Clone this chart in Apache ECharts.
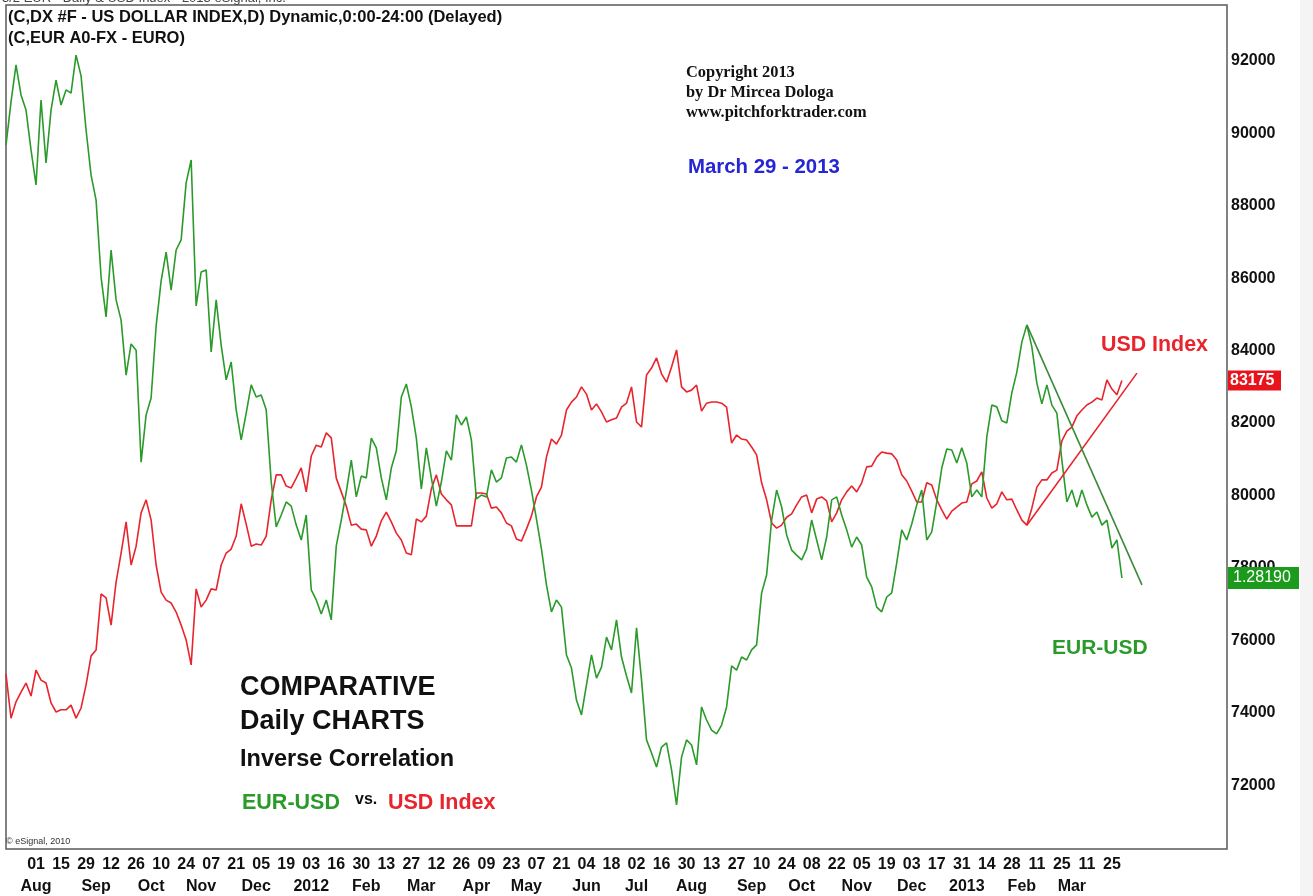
<!DOCTYPE html>
<html>
<head>
<meta charset="utf-8">
<script src="https://cdn.jsdelivr.net/npm/echarts@6/dist/echarts.min.js"></script>
<style>
html,body{margin:0;padding:0;background:#fff;}
#chart{width:1313px;height:896px;}
</style>
</head>
<body>
<div id="chart"></div>
<script>
// ---------------- DATA ----------------
// bottom axis tick labels (every second Monday) and month labels
const dayTickLabels = ['01','15','29','12','26','10','24','07','21','05','19','03','16','30','13','27','12','26','09','23','07','21','04','18','02','16','30','13','27','10','24','08','22','05','19','03','17','31','14','28','11','25','11','25'];
const monthLabels = ['Aug','Sep','Oct','Nov','Dec','2012','Feb','Mar','Apr','May','Jun','Jul','Aug','Sep','Oct','Nov','Dec','2013','Feb','Mar'];
// right axis labels (USD index)
const yTickLabels = [72000,74000,76000,78000,80000,82000,84000,86000,88000,90000,92000];

// USD Index (DX futures x1000), one value every 2 trading days from 14 Jul 2011
const usdIndex = [
75070,73850,74300,74570,74820,74460,75180,74900,74820,74270,
74020,74080,74080,74210,73850,74130,74770,75570,75730,77280,
77170,76420,77610,78410,79270,78080,78600,79520,79880,79320,
78080,77330,77110,77030,76780,76420,76010,75320,77420,76920,
77110,77420,77390,78080,78410,78520,78880,79770,79210,78600,
78660,78630,78880,79880,80570,80570,80260,80210,80480,80760,
80100,81090,81390,81340,81730,81590,80480,80100,79710,79180,
79210,79070,79050,78600,78880,79300,79540,79270,78960,78770,
78410,78360,79350,79270,79430,80180,80570,80040,79880,79740,
79160,79160,79160,79160,80070,80070,80040,79650,79680,79520,
79240,79160,78800,78740,79070,79430,79960,80230,81060,81560,
81420,81670,82360,82580,82720,83000,82800,82360,82530,82310,
82030,82090,82140,82440,82550,83000,82030,81890,83330,83520,
83800,83360,83130,83550,84020,83000,82860,82910,83050,82330,
82550,82580,82580,82550,82440,81450,81670,81560,81530,81340,
81120,80350,79880,79240,79100,79180,79400,79490,79740,79960,
80010,79520,79900,79960,79850,79270,79520,79880,80100,80260,
80100,80350,80790,80810,81060,81200,81170,81150,80980,80570,
80400,80120,79820,79820,80350,80290,79880,79600,79350,79570,
79680,79790,79820,80320,80400,80650,79930,79650,79770,80100,
79880,79900,79600,79320,79180,79650,80230,80430,80430,80620,
80700,81510,81780,81890,82200,82360,82500,82580,82690,82640,
83190,82940,82780,83175
];

// EUR-USD, same dates
const eurUsd = [
1.4276,1.4421,1.4546,1.4445,1.4394,1.4260,1.4142,1.4428,1.4216,1.4394,
1.4495,1.4411,1.4462,1.4451,1.4579,1.4509,1.4327,1.4175,1.4091,1.3832,
1.3698,1.3923,1.3755,1.3687,1.3502,1.3607,1.3586,1.3209,1.3368,1.3425,
1.3667,1.3819,1.3916,1.3788,1.3923,1.3957,1.4149,1.4226,1.3735,1.3849,
1.3856,1.3580,1.3755,1.3603,1.3486,1.3546,1.3385,1.3284,1.3374,1.3469,
1.3428,1.3435,1.3385,1.3142,1.2991,1.3031,1.3075,1.3061,1.2997,1.2947,
1.3031,1.2779,1.2745,1.2698,1.2745,1.2678,1.2927,1.3014,1.3109,1.3216,
1.3092,1.3162,1.3156,1.3290,1.3257,1.3156,1.3082,1.3189,1.3247,1.3428,
1.3472,1.3395,1.3290,1.3119,1.3257,1.3156,1.3061,1.3142,1.3247,1.3216,
1.3368,1.3334,1.3361,1.3284,1.3085,1.3098,1.3092,1.3183,1.3142,1.3156,
1.3223,1.3226,1.3209,1.3267,1.3199,1.3115,1.3018,1.2917,1.2796,1.2705,
1.2745,1.2721,1.2560,1.2516,1.2408,1.2358,1.2459,1.2560,1.2482,1.2519,
1.2620,1.2577,1.2678,1.2553,1.2489,1.2432,1.2651,1.2476,1.2274,1.2230,
1.2183,1.2250,1.2264,1.2173,1.2055,1.2216,1.2274,1.2257,1.2190,1.2385,
1.2341,1.2307,1.2294,1.2324,1.2385,1.2523,1.2509,1.2553,1.2543,1.2577,
1.2594,1.2769,1.2829,1.3014,1.3115,1.3058,1.2964,1.2913,1.2896,1.2880,
1.2917,1.3014,1.2947,1.2880,1.2957,1.3082,1.3092,1.3031,1.2981,1.2923,
1.2957,1.2930,1.2822,1.2789,1.2721,1.2705,1.2755,1.2769,1.2870,1.2981,
1.2947,1.3001,1.3065,1.3115,1.2947,1.2974,1.3075,1.3189,1.3253,1.3250,
1.3206,1.3257,1.3206,1.3092,1.3115,1.3092,1.3294,1.3401,1.3395,1.3348,
1.3341,1.3442,1.3512,1.3613,1.3671,1.3597,1.3475,1.3405,1.3469,1.3401,
1.3374,1.3216,1.3075,1.3115,1.3058,1.3115,1.3065,1.3024,1.3041,1.2997,
1.3014,1.2920,1.2947,1.2819
];

// hand-drawn trend lines: [sample index, value]
const usdTrend = [[204, 79180], [226, 83380]];
const eurTrend = [[204, 1.3671], [227, 1.2796]];
const lastUsdLabel = '83175';
const lastEurLabel = '1.28190';

// ---------------- DATES ----------------
const N_CAT = 245; // includes empty space right of the last value
function addBiz(d, n) {
  const r = new Date(d.getTime());
  while (n > 0) {
    r.setUTCDate(r.getUTCDate() + 1);
    const w = r.getUTCDay();
    if (w !== 0 && w !== 6) n--;
  }
  return r;
}
const dates = [new Date(Date.UTC(2011, 6, 14))];
for (let i = 1; i < N_CAT; i++) dates.push(addBiz(dates[i - 1], 2));
const categories = dates.map(d => d.toISOString().slice(0, 10));
const firstTick = Date.UTC(2011, 7, 1);
const dayLab = {}, monLab = {};
let tk = 0, mk = 0, prevMonth = null;
for (let i = 0; i < usdIndex.length; i++) {
  const d = dates[i];
  const m = d.getUTCFullYear() * 12 + d.getUTCMonth();
  if (d.getTime() >= firstTick) {
    if (d.getUTCDay() === 1 && tk < dayTickLabels.length) dayLab[i] = dayTickLabels[tk++];
    if (m !== prevMonth && mk < monthLabels.length) monLab[i] = monthLabels[mk++];
  }
  prevMonth = m;
}

// ---------------- CHART ----------------
const FONT = '"Liberation Sans", Arial, sans-serif';
const SERIF = '"Liberation Serif", "Times New Roman", serif';
const RED = '#e8242c';
const GREEN = '#2a9a2a';
const chart = echarts.init(document.getElementById('chart'), null, {renderer: 'canvas'});

const GRID = {left: 6, right: 86, top: 5, bottom: 47};

chart.setOption({
  animation: false,
  backgroundColor: '#ffffff',
  grid: {show: true, left: GRID.left, right: GRID.right, top: GRID.top, bottom: GRID.bottom,
         outerBoundsMode: 'none', containLabel: false,
         borderColor: '#5a5a5a', borderWidth: 1.5, backgroundColor: 'transparent'},
  xAxis: {
    type: 'category', data: categories, boundaryGap: false,
    axisLine: {show: false}, axisTick: {show: false}, splitLine: {show: false},
    axisLabel: {
      interval: (idx) => !!(dayLab[idx] || monLab[idx]),
      formatter: (val, idx) => (dayLab[idx] || '') + '\n' + (monLab[idx] || ''),
      fontFamily: FONT, fontSize: 16, fontWeight: 'bold', color: '#111',
      lineHeight: 22, margin: 5
    }
  },
  yAxis: [
    {
      type: 'value', position: 'right', min: 70236, max: 93547,
      axisLine: {show: false}, axisTick: {show: false}, splitLine: {show: false},
      axisLabel: {customValues: yTickLabels, formatter: (v) => String(v),
                  fontFamily: FONT, fontSize: 16, fontWeight: 'bold', color: '#111', margin: 4}
    },
    {
      type: 'value', position: 'right', min: 1.19068, max: 1.47477, show: false,
      splitLine: {show: false}
    }
  ],
  series: [
    {name: 'USD Index', type: 'line', yAxisIndex: 0, data: usdIndex, symbol: 'none',
     lineStyle: {color: RED, width: 1.6}, z: 3},
    {name: 'EUR-USD', type: 'line', yAxisIndex: 1, data: eurUsd, symbol: 'none',
     lineStyle: {color: GREEN, width: 1.6}, z: 4},
    {name: 'USD trend', type: 'line', yAxisIndex: 0, data: usdTrend, symbol: 'none',
     lineStyle: {color: RED, width: 1.6}, z: 5},
    {name: 'EUR trend', type: 'line', yAxisIndex: 1, data: eurTrend, symbol: 'none',
     lineStyle: {color: '#3b8a3b', width: 1.6}, z: 5}
  ]
});

const yR = chart.convertToPixel({yAxisIndex: 0}, Number(lastUsdLabel));
const yG = chart.convertToPixel({yAxisIndex: 1}, Number(lastEurLabel));
const axisX = 1313 - GRID.right;

function txt(x, y, s, font, color) {
  return {type: 'text', x: x, y: y, z: 50,
          style: {text: s, font: font, fill: color, verticalAlign: 'middle'}};
}
const B = 'bold ';
chart.setOption({
  graphic: {elements: [
    {type: 'rect', shape: {x: 1300, y: 0, width: 13, height: 896}, style: {fill: '#f4f4f4'}, z: 0},
    txt(2, -2, '3/2 EUR - Daily & USD Index - 2013 eSignal, Inc.', '13px ' + FONT, '#444'),
    txt(8, 17, '(C,DX #F - US DOLLAR INDEX,D) Dynamic,0:00-24:00 (Delayed)', B + '16.5px ' + FONT, '#111'),
    txt(8, 38, '(C,EUR A0-FX - EURO)', B + '16.5px ' + FONT, '#111'),
    txt(686, 73, 'Copyright 2013', B + '16.4px ' + SERIF, '#111'),
    txt(686, 93, 'by Dr Mircea Dologa', B + '16.4px ' + SERIF, '#111'),
    txt(686, 113, 'www.pitchforktrader.com', B + '16.4px ' + SERIF, '#111'),
    txt(688, 167, 'March 29 - 2013', B + '20.4px ' + FONT, '#2626d4'),
    txt(1101, 345, 'USD Index', B + '21.4px ' + FONT, RED),
    txt(1052, 648, 'EUR-USD', B + '21px ' + FONT, GREEN),
    txt(240, 688, 'COMPARATIVE', B + '27px ' + FONT, '#111'),
    txt(240, 722, 'Daily CHARTS', B + '27px ' + FONT, '#111'),
    txt(240, 760, 'Inverse Correlation', B + '23.5px ' + FONT, '#111'),
    txt(242, 803, 'EUR-USD', B + '21.5px ' + FONT, GREEN),
    txt(355, 800, 'vs.', B + '16px ' + FONT, '#111'),
    txt(388, 803, 'USD Index', B + '21.5px ' + FONT, RED),
    txt(6, 842, '\u00a9 eSignal, 2010', '9px ' + FONT, '#333'),
    {type: 'rect', shape: {x: axisX + 1, y: yR - 10, width: 53, height: 20}, style: {fill: '#e8141c'}, z: 60},
    {type: 'text', x: axisX + 3, y: yR, z: 61,
     style: {text: lastUsdLabel, font: B + '16px ' + FONT, fill: '#fff', verticalAlign: 'middle'}},
    {type: 'rect', shape: {x: axisX + 1, y: yG - 11, width: 71, height: 22}, style: {fill: '#1c9a1c'}, z: 60},
    {type: 'text', x: axisX + 6, y: yG, z: 61,
     style: {text: lastEurLabel, font: '16px ' + FONT, fill: '#fff', verticalAlign: 'middle'}}
  ]}
});
</script>
</body>
</html>
